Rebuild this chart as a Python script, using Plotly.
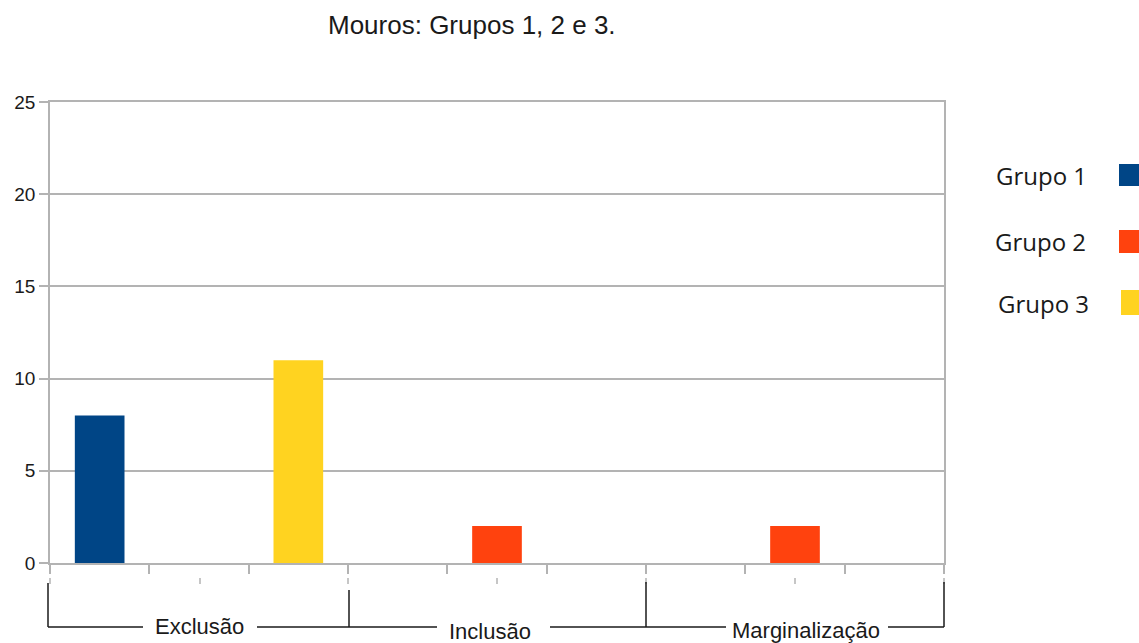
import plotly.graph_objects as go

# Data
groups = ["Exclusão", "Inclusão", "Marginalização"]
subgroups = ["Grupo 1", "Grupo 2", "Grupo 3"]
grupo1 = [8, 0, 0]
grupo2 = [0, 2, 2]
grupo3 = [11, 0, 0]
colors = ["#004586", "#ff420e", "#ffd320"]
title = "Mouros: Grupos 1, 2 e 3."

W, H = 1139, 643
L, R, T, B = 50, 944, 102, 563  # plot area in pixels
n_slots = len(groups) * len(subgroups)


def px_x(p):
    return (p - L) / (R - L)


def px_y(p):
    return (B - p) / (B - T)


fig = go.Figure()
series = [grupo1, grupo2, grupo3]
for s, (name, vals) in enumerate(zip(subgroups, series)):
    xs = [g * len(subgroups) + s for g in range(len(groups))]
    fig.add_trace(go.Bar(
        x=xs, y=vals, name=name, width=0.5,
        marker=dict(color=colors[s], line=dict(width=0)),
        showlegend=False, hoverinfo="y+name",
    ))

grid = "#b3b3b3"
shapes = []
line_col = "#1a1a1a"

# small marks below the axis ticks
for p in [50, 200, 348, 497, 646, 795, 944]:
    shapes.append(dict(type="line", xref="paper", yref="paper",
                       x0=px_x(p), x1=px_x(p), y0=px_y(578), y1=px_y(584),
                       line=dict(color=grid, width=1.5)))

# group brackets
hy = 627
for xb, top in [(48, 583), (349, 590), (646, 582), (944, 582)]:
    shapes.append(dict(type="line", xref="paper", yref="paper",
                       x0=px_x(xb), x1=px_x(xb), y0=px_y(top), y1=px_y(hy),
                       line=dict(color=line_col, width=1.5)))
for a, b in [(48, 143), (257, 437), (550, 726), (888, 944)]:
    shapes.append(dict(type="line", xref="paper", yref="paper",
                       x0=px_x(a), x1=px_x(b), y0=px_y(hy), y1=px_y(hy),
                       line=dict(color=line_col, width=1.5)))

# legend swatches
for (x0, y0, y1), c in zip([(1119, 164, 186), (1119, 230, 253), (1121, 290, 315)], colors):
    shapes.append(dict(type="rect", xref="paper", yref="paper",
                       x0=px_x(x0), x1=px_x(1145), y0=px_y(y1), y1=px_y(y0),
                       fillcolor=c, line=dict(width=0)))

annotations = [
    dict(text=title, xref="paper", yref="paper", x=px_x(472), y=px_y(25),
         showarrow=False, xanchor="center", yanchor="middle",
         font=dict(family="Liberation Sans", size=26, color="#1a1a1a")),
]
for lab, cx, cy in zip(groups, [199, 490, 806], [626, 631, 630]):
    annotations.append(dict(text=lab, xref="paper", yref="paper",
                            x=px_x(cx), y=px_y(cy), showarrow=False,
                            xanchor="center", yanchor="middle",
                            font=dict(family="Liberation Sans", size=22, color="#1a1a1a")))
for lab, cx, cy in zip(subgroups, [1041, 1040, 1043], [175, 241, 303]):
    annotations.append(dict(text=lab, xref="paper", yref="paper",
                            x=px_x(cx), y=px_y(cy), showarrow=False,
                            xanchor="center", yanchor="middle",
                            font=dict(family="Open Sans", size=24, color="#1a1a1a")))

fig.update_layout(
    width=W, height=H,
    margin=dict(l=L, r=W - R, t=T, b=H - B, pad=0),
    paper_bgcolor="white", plot_bgcolor="white",
    barmode="overlay",
    shapes=shapes, annotations=annotations,
    xaxis=dict(
        range=[-0.5, n_slots - 0.5],
        tickvals=[i - 0.5 for i in range(n_slots + 1)],
        showticklabels=False, ticks="outside", ticklen=9, tickcolor=grid, tickwidth=1.5,
        showgrid=False, zeroline=False,
        showline=True, linecolor=grid, linewidth=1.5, mirror=True,
    ),
    yaxis=dict(
        range=[0, 25], dtick=5, tick0=0,
        ticks="outside", ticklen=9, tickcolor=grid, tickwidth=1.5,
        showgrid=True, gridcolor=grid, gridwidth=1.5,
        zeroline=False,
        showline=True, linecolor=grid, linewidth=1.5, mirror=True,
        tickfont=dict(family="Liberation Sans", size=19, color="#1a1a1a"),
    ),
)

fig.write_html("out.html")
